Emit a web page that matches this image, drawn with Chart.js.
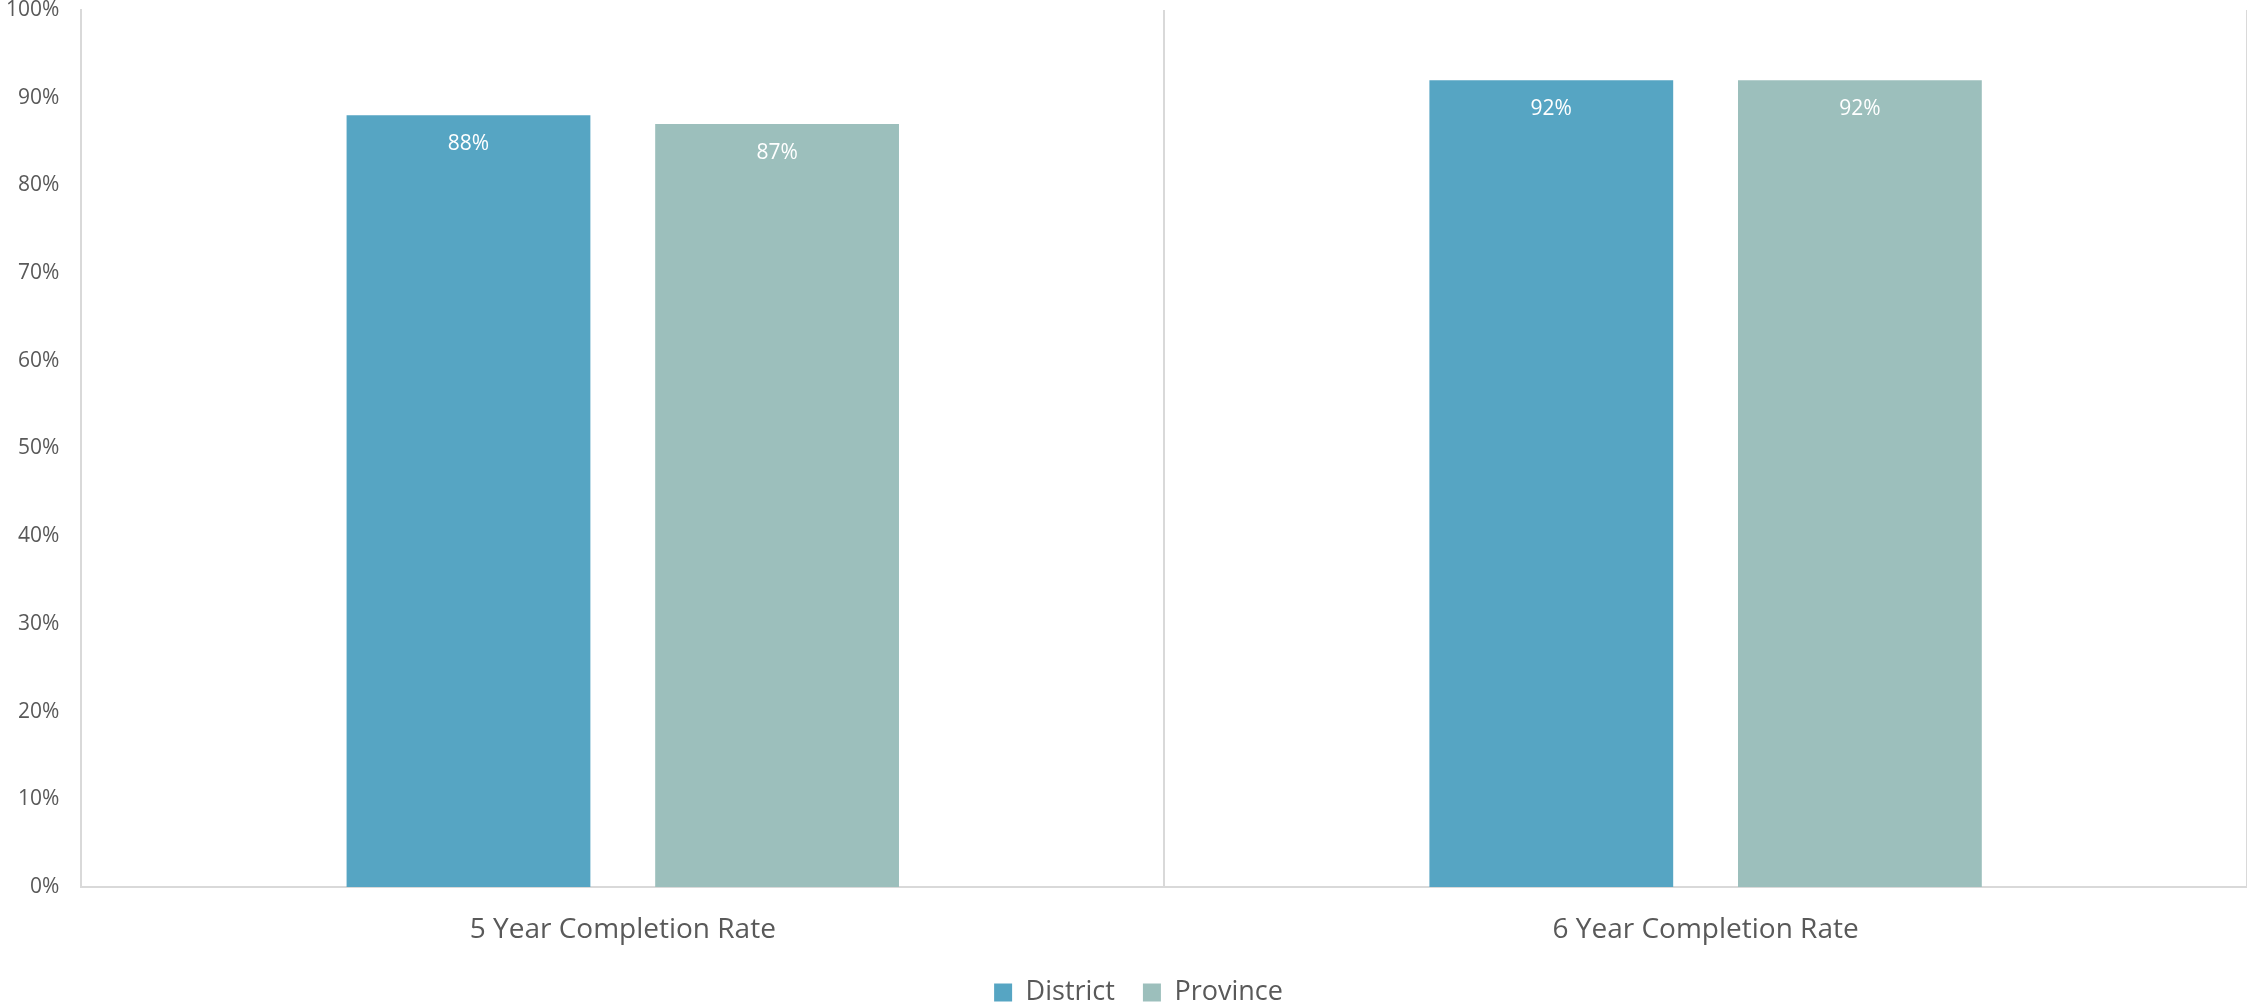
<!DOCTYPE html>
<html>
<head>
<meta charset="utf-8">
<script src="https://cdn.jsdelivr.net/npm/chart.js@4.4.1/dist/chart.umd.min.js"></script>
<style>
  html, body { margin: 0; padding: 0; background: #fff; }
  #wrap { width: 2247px; height: 1004px; }
</style>
</head>
<body>
<div id="wrap"><canvas id="chart1" width="2247" height="1004"></canvas></div>
<script>
var categories = ["5 Year Completion Rate", "6 Year Completion Rate"];
var district = [88, 92];
var province = [87, 92];
var seriesNames = ["District", "Province"];

var barColors = ["#56a5c3", "#9cbfbc"];
var textColor = "#595959";
var lineColor = "#d9d9d9";
var fontName = "'Open Sans', sans-serif";

// white value labels just under the top of each bar
const valueLabels = {
  id: 'valueLabels',
  afterDatasetsDraw(chart) {
    const ctx = chart.ctx;
    ctx.save();
    ctx.fillStyle = '#ffffff';
    ctx.font = "21px " + fontName;
    ctx.textAlign = 'center';
    ctx.textBaseline = 'middle';
    chart.data.datasets.forEach((ds, i) => {
      chart.getDatasetMeta(i).data.forEach((bar, j) => {
        ctx.fillText(ds.data[j] + '%', bar.x, bar.y + 29);
      });
    });
    ctx.restore();
  }
};

// legend sits a bit right of the canvas centre in the original
const legendShift = {
  id: 'legendShift',
  afterLayout(chart) {
    if (chart.legend) chart.legend.left += 46;
  }
};

new Chart("chart1", {
  type: 'bar',
  data: {
    labels: categories,
    datasets: [
      { label: seriesNames[0], data: district, backgroundColor: barColors[0],
        categoryPercentage: 0.57, barPercentage: 0.79 },
      { label: seriesNames[1], data: province, backgroundColor: barColors[1],
        categoryPercentage: 0.57, barPercentage: 0.79 }
    ]
  },
  options: {
    responsive: false,
    animation: false,
    layout: { padding: { left: -16, right: 0, top: 10, bottom: -12 } },
    plugins: {
      tooltip: { enabled: false },
      legend: {
        position: 'bottom',
        labels: {
          color: textColor,
          font: { family: fontName, size: 27 },
          boxWidth: 18,
          boxHeight: 18,
          padding: 28
        }
      }
    },
    scales: {
      x: {
        grid: { display: true, offset: true, color: lineColor, lineWidth: 2, drawTicks: false },
        border: { display: true, color: lineColor, width: 2 },
        ticks: { color: textColor, font: { family: fontName, size: 28 }, padding: 26 },
        afterFit: s => { s.height = 64; }
      },
      y: {
        min: 0,
        max: 100,
        grid: { display: false, drawTicks: false },
        border: { display: true, color: lineColor, width: 2 },
        ticks: {
          stepSize: 10,
          color: textColor,
          font: { family: fontName, size: 21 },
          padding: 22,
          callback: v => v + '%'
        },
        afterFit: s => { s.paddingTop = 0; }
      }
    }
  },
  plugins: [valueLabels, legendShift]
});
</script>
</body>
</html>
